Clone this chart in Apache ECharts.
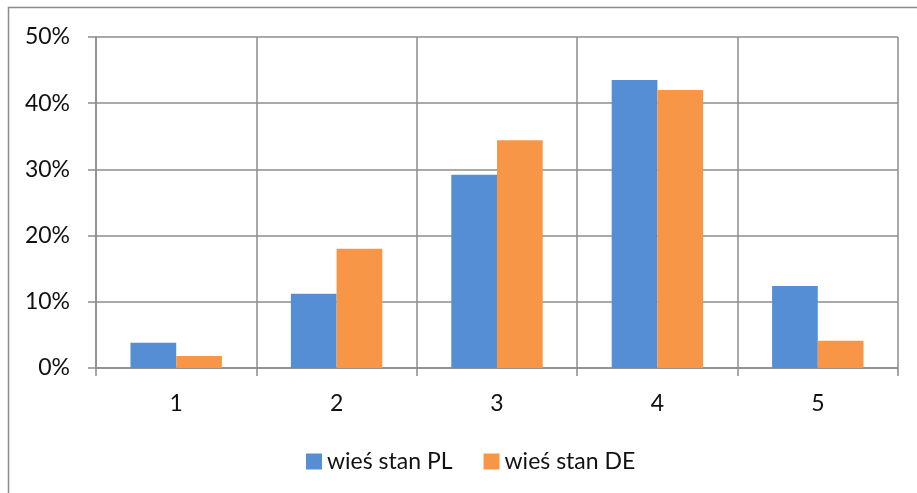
<!DOCTYPE html>
<html>
<head>
<meta charset="utf-8">
<script src="https://cdn.jsdelivr.net/npm/echarts@6/dist/echarts.min.js"></script>
<style>
  html, body { margin: 0; padding: 0; background: #fff; }
  #main { width: 917px; height: 493px; }
</style>
</head>
<body>
<div id="main"></div>
<script>
const categories = ['1', '2', '3', '4', '5'];
const plValues = [3.8, 11.2, 29.2, 43.5, 12.4];
const deValues = [1.8, 18.0, 34.4, 42.0, 4.1];
const seriesNames = ['wieś stan PL', 'wieś stan DE'];

const chart = echarts.init(document.getElementById('main'));
const font = 'Lato, "Open Sans", sans-serif';

const option = {
  animation: false,
  textStyle: { fontFamily: font },
  graphic: [{
    type: 'rect',
    shape: { x: 8.5, y: 7.5, width: 1000, height: 600 },
    style: { fill: 'none', stroke: '#8c8c8c', lineWidth: 1.5 },
    silent: true
  }],
  grid: { left: 96, right: 19, top: 37, bottom: 125 },
  legend: {
    data: seriesNames,
    left: 301,
    top: 445,
    itemWidth: 16,
    itemHeight: 16,
    itemGap: 31,
    icon: 'rect',
    textStyle: { fontSize: 23, color: '#111', fontFamily: font }
  },
  xAxis: {
    type: 'category',
    data: categories,
    axisLine: { lineStyle: { color: '#8c8c8c', width: 1.5 } },
    axisTick: { show: true, length: 8, lineStyle: { color: '#8c8c8c', width: 1.5 } },
    splitLine: { show: true, lineStyle: { color: '#8c8c8c', width: 1.5 } },
    axisLabel: { fontSize: 23, color: '#111', margin: 24, fontFamily: font }
  },
  yAxis: {
    type: 'value',
    min: 0,
    max: 50,
    interval: 10,
    axisLine: { show: true, lineStyle: { color: '#8c8c8c', width: 1.5 } },
    axisTick: { show: true, length: 8, lineStyle: { color: '#8c8c8c', width: 1.5 } },
    splitLine: { show: true, lineStyle: { color: '#8c8c8c', width: 1.5 } },
    axisLabel: { fontSize: 23, color: '#111', margin: 26, fontFamily: font, formatter: '{value}%' }
  },
  series: [
    {
      name: seriesNames[0],
      type: 'bar',
      data: plValues,
      barGap: '0%',
      barCategoryGap: '43%',
      itemStyle: { color: '#558ed5' }
    },
    {
      name: seriesNames[1],
      type: 'bar',
      data: deValues,
      barGap: '0%',
      barCategoryGap: '43%',
      itemStyle: { color: '#f79646' }
    }
  ]
};

chart.setOption(option);
</script>
</body>
</html>
